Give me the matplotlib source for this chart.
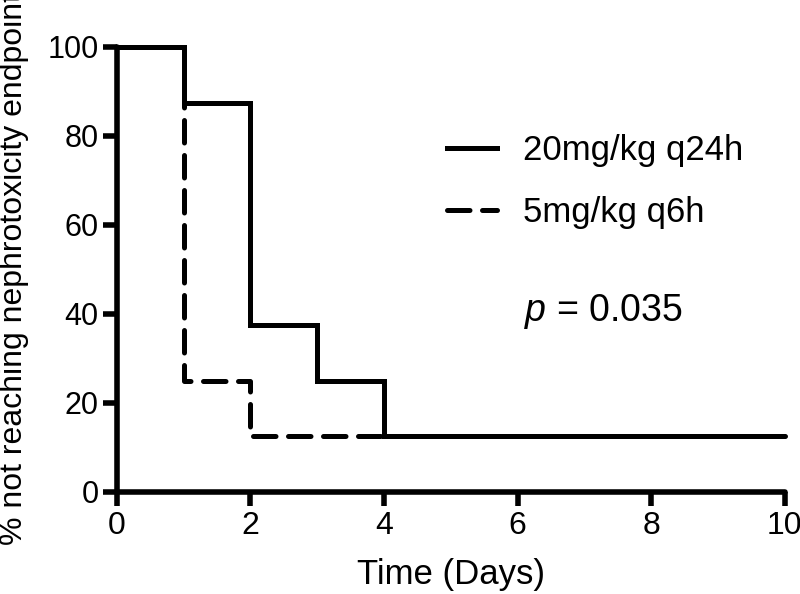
import matplotlib
matplotlib.use("Agg")
import matplotlib.pyplot as plt
from matplotlib.lines import Line2D

plt.rcParams['font.family'] = ['Liberation Sans', 'DejaVu Sans']
plt.rcParams['mathtext.fontset'] = 'custom'
plt.rcParams['mathtext.it'] = 'Liberation Sans:italic'
plt.rcParams['mathtext.rm'] = 'Liberation Sans'

# Data (Kaplan-Meier steps)
time_20 = [0, 1, 2, 3, 4, 10]
surv_20 = [100, 87.5, 37.5, 25, 12.5, 12.5]
time_5 = [0, 1, 2, 10]
surv_5 = [100, 25, 12.5, 12.5]
labels = ["20mg/kg q24h", "5mg/kg q6h"]
xticks = [0, 2, 4, 6, 8, 10]
yticks = [0, 20, 40, 60, 80, 100]
p_text = "0.035"

fig = plt.figure(figsize=(8, 5.94), dpi=100)
ax = fig.add_axes([0.146, 0.172, 0.835, 0.749])

lw = 3.6
dash = (4.5, 2.5)
l2, = ax.step(time_5, surv_5, where='post', color='black', lw=lw,
              dashes=dash, dash_capstyle='round', solid_joinstyle='miter')
l1, = ax.step(time_20, surv_20, where='post', color='black', lw=lw,
              solid_capstyle='butt', solid_joinstyle='miter')

ax.set_xlim(0, 10)
ax.set_ylim(0, 100)
ax.set_xticks(xticks)
ax.set_yticks(yticks)
for s in ['top', 'right']:
    ax.spines[s].set_visible(False)
for s in ['left', 'bottom']:
    ax.spines[s].set_linewidth(4)
    ax.spines[s].set_capstyle('round')
ax.tick_params(width=4, length=10, direction='out', pad=3)
ax.tick_params(axis='y', labelsize=22)
ax.tick_params(axis='x', labelsize=23, pad=4)
ax.set_xlabel("Time (Days)", fontsize=25, labelpad=12)
ax.set_ylabel("% not reaching nephrotoxicity endpoint", fontsize=23)
ax.yaxis.set_label_coords(-0.132, 0.5)
for l in (l1, l2):
    l.set_clip_on(False)

h1 = Line2D([], [], color='black', lw=lw)
h2 = Line2D([], [], color='black', lw=lw, dashes=dash, dash_capstyle='round')
ax.legend([h1, h2], labels, loc='upper left', bbox_to_anchor=(0.494, 0.805),
          frameon=False, fontsize=25, handlelength=1.45, labelspacing=0.85,
          handletextpad=0.75, borderpad=0, borderaxespad=0)

ax.text(0.609, 0.406, r"$p$ = " + p_text, transform=ax.transAxes, fontsize=27,
        ha='left', va='center')

fig.savefig("out.png", dpi=100)
